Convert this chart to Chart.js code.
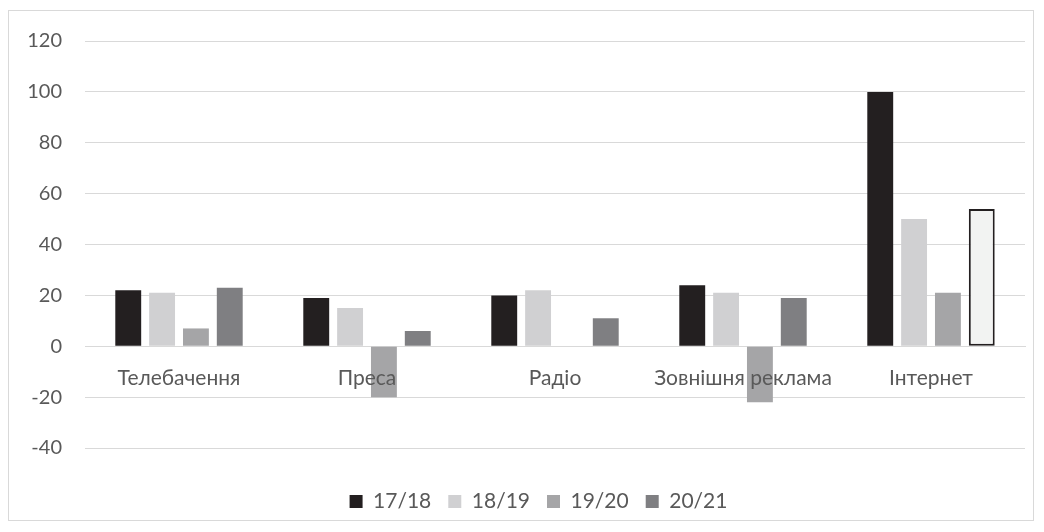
<!DOCTYPE html>
<html>
<head>
<meta charset="utf-8">
<script src="https://cdn.jsdelivr.net/npm/chart.js@4/dist/chart.umd.min.js"></script>
<style>
  html, body { margin: 0; padding: 0; background: #ffffff; }
  #frame {
    position: absolute; left: 8px; top: 10px;
    width: 1026px; height: 511px;
    border: 1px solid #d9d9d9; box-sizing: border-box;
  }
  #wrap { position: absolute; left: 0; top: 0; width: 1024px; height: 509px; }
</style>
</head>
<body>
<div id="frame"><div id="wrap"><canvas id="c"></canvas></div></div>
<script>
// Рекламні сегменти та зміна обсягів (%) за сезонами
const categories = ['Телебачення', 'Преса', 'Радіо', 'Зовнішня реклама', 'Інтернет'];
const seasons = ['17/18', '18/19', '19/20', '20/21'];
const s1718 = [22, 19, 20, 24, 100];
const s1819 = [21, 15, 22, 21, 50];
const s1920 = [7, -20, 0, -22, 21];
const s2021 = [23, 6, 11, 19, 54];
const yTicks = [-40, -20, 0, 20, 40, 60, 80, 100, 120];

const colors = ['#231f20', '#d0d0d2', '#a5a5a7', '#7f7f82'];
const textColor = '#595959';
const fontFamily = 'Lato, "Open Sans", sans-serif';

// Інтернет у 20/21 виділено світлим стовпчиком з темною рамкою
const lastFill = s2021.map((v, i) => i === categories.length - 1 ? '#f2f3f2' : colors[3]);
const lastBorder = s2021.map((v, i) => i === categories.length - 1 ? 2 : 0);

const seriesValues = [s1718, s1819, s1920, s2021];
const datasets = seriesValues.map((vals, k) => ({
  label: seasons[k],
  data: vals,
  backgroundColor: k === 3 ? lastFill : colors[k],
  borderColor: '#231f20',
  borderWidth: k === 3 ? lastBorder : 0,
  borderSkipped: false,
  barPercentage: 0.765,
  categoryPercentage: 0.72
}));

// Легенду трохи зсунуто праворуч і вниз, ближче до центру області графіка
const legendShift = {
  id: 'legendShift',
  afterLayout(chart) {
    if (chart.legend) {
      chart.legend.left += 34;
      chart.legend.top += 2;
      chart.legend.bottom += 2;
    }
  }
};

new Chart(document.getElementById('c'), {
  type: 'bar',
  data: { labels: categories, datasets },
  options: {
    responsive: true,
    maintainAspectRatio: false,
    animation: false,
    layout: { padding: { left: 9, right: 8, top: 30, bottom: 0 } },
    plugins: {
      tooltip: { enabled: false },
      legend: {
        position: 'bottom',
        // порожній заголовок лише відсуває легенду від області графіка
        title: { display: true, text: ' ', font: { size: 10 }, padding: 6 },
        labels: {
          color: textColor,
          font: { family: fontFamily, size: 21 },
          boxWidth: 13,
          boxHeight: 13,
          padding: 17,
          generateLabels: (chart) => chart.data.datasets.map((ds, i) => ({
            text: ds.label,
            fillStyle: colors[i],
            strokeStyle: colors[i],
            lineWidth: 0,
            fontColor: textColor,
            hidden: false,
            datasetIndex: i
          }))
        }
      }
    },
    scales: {
      x: {
        position: { y: 0 },
        grid: { display: false, drawTicks: false },
        border: { display: true, color: '#d9d9d9', width: 1 },
        // вісь категорій лежить на нулі і не забирає місця в розкладці
        afterFit: (s) => { s.paddingLeft = 0; s.paddingRight = 0; s.height = 0; },
        ticks: {
          z: 1,
          color: textColor,
          font: { family: fontFamily, size: 21 },
          padding: 19,
          maxRotation: 0,
          autoSkip: false
        }
      },
      y: {
        min: -40,
        max: 120,
        afterBuildTicks: (axis) => { axis.ticks = yTicks.map(v => ({ value: v })); },
        afterFit: (axis) => { axis.width = 67; axis.paddingTop = 0; axis.paddingBottom = 0; },
        grid: { color: '#d9d9d9', lineWidth: 1, drawTicks: false },
        border: { display: false },
        ticks: {
          color: textColor,
          font: { family: fontFamily, size: 20 },
          padding: 23
        }
      }
    }
  },
  plugins: [legendShift]
});
</script>
</body>
</html>
